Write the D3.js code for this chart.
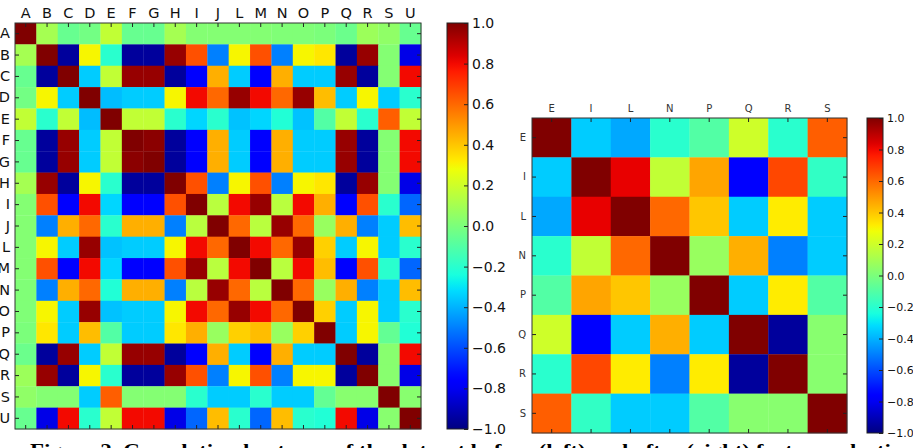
<!DOCTYPE html>
<html>
<head>
<meta charset="utf-8">
<script src="https://cdn.jsdelivr.net/npm/d3@7"></script>
<style>
  body { margin: 0; background: #fff; }
  svg { display: block; }
</style>
</head>
<body>
<div id="chart"></div>
<script>
// labels of both matrices
const bigVars = ["A","B","C","D","E","F","G","H","I","J","L","M","N","O","P","Q","R","S","U"];
const smallVars = ["E","I","L","N","P","Q","R","S"];

// correlation values (rows in the order of bigVars)
const bigRows = [
  [ 1.00, 0.10,-0.05,-0.02, 0.17,-0.05,-0.05, 0.10, 0.02, 0.02, 0.02, 0.02, 0.01, 0.01, 0.00,-0.04, 0.08, 0.05,-0.05],
  [ 0.10, 1.00,-0.95, 0.30,-0.20,-0.95,-0.95, 0.96, 0.65,-0.50, 0.30, 0.65,-0.50, 0.30, 0.33,-0.95, 0.96, 0.02,-0.82],
  [-0.05,-0.95, 1.00,-0.35, 0.17, 0.96, 0.96,-0.95,-0.75, 0.45,-0.35,-0.75, 0.45,-0.35,-0.35, 0.96,-0.95, 0.02, 0.80],
  [-0.02, 0.30,-0.35, 1.00,-0.38,-0.35,-0.35, 0.30, 0.80, 0.60, 0.96, 0.80, 0.60, 0.96, 0.42,-0.35, 0.30,-0.35,-0.20],
  [ 0.17,-0.20, 0.17,-0.38, 1.00, 0.17, 0.17,-0.20,-0.33,-0.20,-0.37,-0.33,-0.22,-0.37,-0.10, 0.17,-0.20, 0.62, 0.17],
  [-0.05,-0.95, 0.96,-0.35, 0.17, 1.00, 0.98,-0.95,-0.78, 0.45,-0.35,-0.78, 0.45,-0.35,-0.35, 0.96,-0.95, 0.02, 0.80],
  [-0.05,-0.95, 0.96,-0.35, 0.17, 0.98, 1.00,-0.95,-0.78, 0.45,-0.35,-0.78, 0.45,-0.35,-0.35, 0.96,-0.95, 0.02, 0.80],
  [ 0.10, 0.96,-0.95, 0.30,-0.20,-0.95,-0.95, 1.00, 0.65,-0.50, 0.30, 0.65,-0.50, 0.30, 0.33,-0.95, 0.96, 0.02,-0.82],
  [ 0.02, 0.65,-0.75, 0.80,-0.33,-0.78,-0.78, 0.65, 1.00, 0.15, 0.80, 0.96, 0.15, 0.80, 0.45,-0.75, 0.65,-0.20,-0.55],
  [ 0.02,-0.50, 0.45, 0.60,-0.20, 0.45, 0.45,-0.50, 0.15, 1.00, 0.60, 0.15, 0.96, 0.60, 0.07, 0.45,-0.50,-0.35, 0.42],
  [ 0.02, 0.30,-0.35, 0.96,-0.37,-0.35,-0.35, 0.30, 0.80, 0.60, 1.00, 0.80, 0.60, 0.96, 0.38,-0.35, 0.30,-0.35,-0.20],
  [ 0.02, 0.65,-0.75, 0.80,-0.33,-0.78,-0.78, 0.65, 0.96, 0.15, 0.80, 1.00, 0.15, 0.80, 0.42,-0.75, 0.65,-0.20,-0.55],
  [ 0.01,-0.50, 0.45, 0.60,-0.22, 0.45, 0.45,-0.50, 0.15, 0.96, 0.60, 0.15, 1.00, 0.60, 0.07, 0.45,-0.50,-0.35, 0.42],
  [ 0.01, 0.30,-0.35, 0.96,-0.37,-0.35,-0.35, 0.30, 0.80, 0.60, 0.96, 0.80, 0.60, 1.00, 0.38,-0.35, 0.30,-0.35,-0.20],
  [ 0.00, 0.33,-0.35, 0.42,-0.10,-0.35,-0.35, 0.33, 0.45, 0.07, 0.38, 0.42, 0.07, 0.38, 1.00,-0.35, 0.30,-0.06,-0.22],
  [-0.04,-0.95, 0.96,-0.35, 0.17, 0.96, 0.96,-0.95,-0.75, 0.45,-0.35,-0.75, 0.45,-0.35,-0.35, 1.00,-0.95, 0.03, 0.80],
  [ 0.08, 0.96,-0.95, 0.30,-0.20,-0.95,-0.95, 0.96, 0.65,-0.50, 0.30, 0.65,-0.50, 0.30, 0.30,-0.95, 1.00, 0.03,-0.82],
  [ 0.05, 0.02, 0.02,-0.35, 0.62, 0.02, 0.02, 0.02,-0.20,-0.35,-0.35,-0.20,-0.35,-0.35,-0.06, 0.03, 0.03, 1.00, 0.03],
  [-0.05,-0.82, 0.80,-0.20, 0.17, 0.80, 0.80,-0.82,-0.55, 0.42,-0.20,-0.55, 0.42,-0.20,-0.22, 0.80,-0.82, 0.03, 1.00]
];

const smallRows = [
  [ 1.00,-0.35,-0.42,-0.20,-0.10, 0.20,-0.20, 0.62],
  [-0.35, 1.00, 0.82, 0.17, 0.47,-0.75, 0.67,-0.18],
  [-0.42, 0.82, 1.00, 0.60, 0.40,-0.35, 0.32,-0.35],
  [-0.20, 0.17, 0.60, 1.00, 0.07, 0.45,-0.50,-0.35],
  [-0.10, 0.47, 0.40, 0.07, 1.00,-0.35, 0.32,-0.10],
  [ 0.20,-0.75,-0.35, 0.45,-0.35, 1.00,-0.95, 0.03],
  [-0.20, 0.67, 0.32,-0.50, 0.32,-0.95, 1.00, 0.03],
  [ 0.62,-0.18,-0.35,-0.35,-0.10, 0.03, 0.03, 1.00]
];

const cbarTicks = [-1.0,-0.8,-0.6,-0.4,-0.2,0.0,0.2,0.4,0.6,0.8,1.0];
const caption = "Figure 2. Correlation heatmap of the dataset before (left) and after (right) feature selection";

// matplotlib "jet" colormap, one linear scale per channel
const jR = d3.scaleLinear().domain([0,0.35,0.66,0.89,1]).range([0,0,1,1,0.5]).clamp(true);
const jG = d3.scaleLinear().domain([0,0.125,0.375,0.64,0.91,1]).range([0,0,1,1,0,0]).clamp(true);
const jB = d3.scaleLinear().domain([0,0.11,0.34,0.65,1]).range([0.5,1,1,0,0]).clamp(true);
const toT = d3.scaleLinear().domain([-1,1]).range([0,1]);
function jet(v) {
  const t = toT(v);
  return d3.rgb(jR(t)*255, jG(t)*255, jB(t)*255).formatHex();
}

const W = 913, H = 448;
const svg = d3.select("#chart").append("svg").attr("width", W).attr("height", H);
const defs = svg.append("defs");

function heatmap(vars, rows, box, fontSize, labelColor) {
  const x = d3.scaleBand().domain(vars).range([box.x, box.x + box.size]);
  const y = d3.scaleBand().domain(vars).range([box.y, box.y + box.size]);
  const cells = [];
  rows.forEach((r, i) => r.forEach((v, j) => cells.push({row: vars[i], col: vars[j], v})));
  const g = svg.append("g");
  g.selectAll("rect.cell").data(cells).join("rect")
    .attr("class", "cell")
    .attr("x", d => x(d.col))
    .attr("y", d => y(d.row))
    .attr("width", x.bandwidth() + 0.3)
    .attr("height", y.bandwidth() + 0.3)
    .attr("fill", d => jet(d.v));

  const tk = 4;
  const top = g.append("g").attr("transform", `translate(0,${box.y})`)
    .call(d3.axisTop(x).tickSize(-tk).tickPadding(tk + box.pad));
  const left = g.append("g").attr("transform", `translate(${box.x},0)`)
    .call(d3.axisLeft(y).tickSize(-tk).tickPadding(tk + box.pad));
  const bottom = g.append("g").attr("transform", `translate(0,${box.y + box.size})`)
    .call(d3.axisBottom(x).tickSize(-tk).tickFormat(""));
  const right = g.append("g").attr("transform", `translate(${box.x + box.size},0)`)
    .call(d3.axisRight(y).tickSize(-tk).tickFormat(""));
  [top, left, bottom, right].forEach(a => {
    a.select(".domain").remove();
    a.selectAll("line").attr("stroke", "#222");
    a.selectAll("text").attr("font-family", "DejaVu Sans").attr("font-size", fontSize).attr("fill", labelColor);
  });
  g.append("rect")
    .attr("x", box.x).attr("y", box.y).attr("width", box.size).attr("height", box.size)
    .attr("fill", "none").attr("stroke", "#333").attr("stroke-width", 1);
}

function colorbar(id, box, fontSize) {
  const grad = defs.append("linearGradient").attr("id", id)
    .attr("x1", 0).attr("y1", 1).attr("x2", 0).attr("y2", 0);
  d3.range(0, 1.0001, 0.02).forEach(t => {
    grad.append("stop").attr("offset", t).attr("stop-color", jet(toT.invert(t)));
  });
  const s = d3.scaleLinear().domain([-1, 1]).range([box.y + box.h, box.y]);
  const g = svg.append("g");
  g.append("rect").attr("x", box.x).attr("y", box.y).attr("width", box.w).attr("height", box.h)
    .attr("fill", `url(#${id})`).attr("stroke", "#222").attr("stroke-width", 1);
  const ax = g.append("g").attr("transform", `translate(${box.x + box.w},0)`)
    .call(d3.axisRight(s).tickValues(cbarTicks).tickSize(-4).tickPadding(4)
      .tickFormat(d => d3.format(".1f")(d).replace("-", "\u2212")));
  ax.select(".domain").remove();
  ax.selectAll("line").attr("stroke", "#222");
  ax.selectAll("text").attr("font-family", "DejaVu Sans").attr("font-size", fontSize).attr("fill", "#111");
}

heatmap(bigVars, bigRows, {x: 15, y: 23, size: 406, pad: 1}, 14.5, "#111");
colorbar("jetL", {x: 447, y: 23, w: 21, h: 406}, 14);

heatmap(smallVars, smallRows, {x: 532, y: 118, size: 315, pad: 2}, 10, "#333");
colorbar("jetR", {x: 867, y: 118, w: 16, h: 315}, 11);

svg.append("text")
  .attr("x", 30).attr("y", 457)
  .attr("font-family", "Liberation Serif").attr("font-weight", "bold")
  .attr("font-size", 18)
  .attr("textLength", 885).attr("lengthAdjust", "spacingAndGlyphs")
  .text(caption);
</script>
</body>
</html>
